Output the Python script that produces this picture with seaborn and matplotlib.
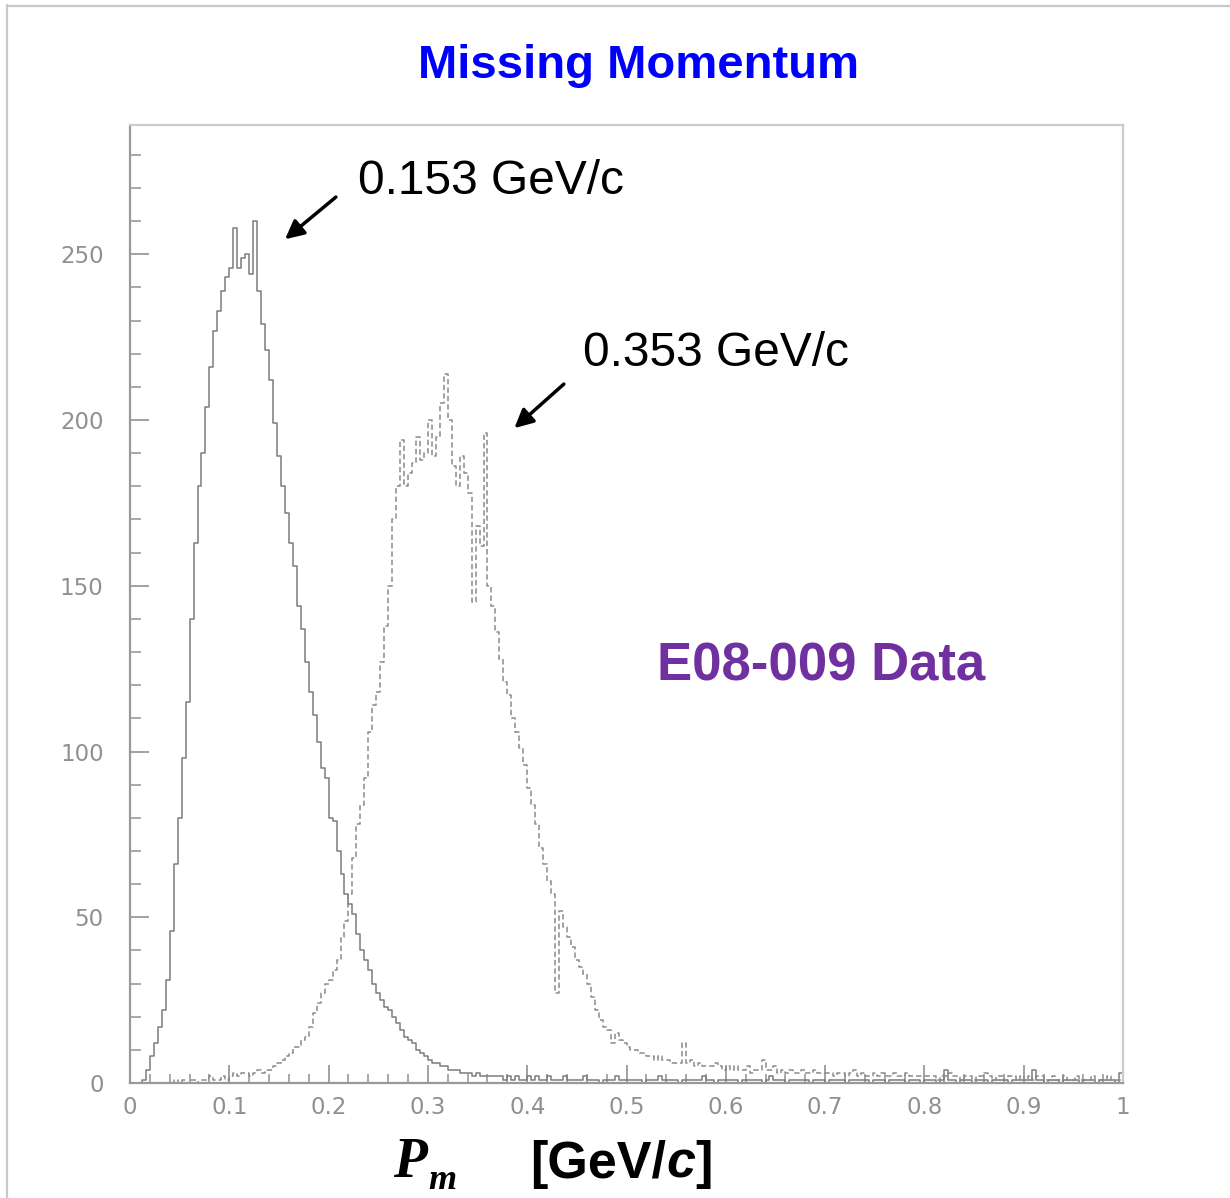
import numpy as np
import pandas as pd
import matplotlib
matplotlib.use("Agg")
import matplotlib.pyplot as plt
from matplotlib.ticker import MultipleLocator, FuncFormatter
from matplotlib.lines import Line2D
import seaborn as sns

# Missing-momentum histograms, 250 bins of 0.004 GeV/c from 0 to 1
bin_width = 0.004
bin_centers = np.round(np.arange(250) * bin_width + bin_width / 2, 4)

# Kinematic setting centred at 0.153 GeV/c (solid histogram)
counts_low = [
    # 0.0 - 0.1
    0, 0, 0, 1, 4, 8, 12, 17, 22, 31, 46, 66, 80, 98, 115, 140, 163, 180, 190, 204, 216, 227, 233, 239, 243,
    # 0.1 - 0.2
    246, 258, 246, 249, 250, 244, 260, 239, 229, 221, 212, 199, 189, 180, 172, 163, 156, 144, 137, 127, 118, 111, 103, 95, 92,
    # 0.2 - 0.3
    80, 79, 70, 63, 57, 54, 51, 45, 40, 37, 34, 30, 27, 25, 23, 22, 20, 18, 16, 14, 13, 12, 10, 9, 8,
    # 0.3 - 0.4
    7, 6, 6, 5, 5, 4, 4, 4, 3, 3, 3, 2, 3, 2, 2, 2, 2, 2, 2, 1, 2, 1, 2, 1, 1,
    # 0.4 - 0.5
    2, 1, 2, 1, 1, 2, 1, 1, 1, 2, 1, 1, 1, 1, 2, 1, 1, 1, 0, 1, 1, 1, 2, 1, 1,
    # 0.5 - 0.6
    1, 1, 1, 1, 0, 1, 1, 1, 2, 1, 1, 1, 1, 0, 1, 1, 1, 1, 1, 2, 1, 1, 0, 1, 1,
    # 0.6 - 0.7
    1, 1, 1, 0, 1, 1, 1, 1, 1, 0, 1, 2, 1, 1, 1, 0, 1, 1, 1, 1, 1, 0, 1, 1, 1,
    # 0.7 - 0.8
    0, 1, 1, 1, 1, 0, 1, 1, 1, 1, 1, 0, 1, 1, 1, 0, 1, 1, 1, 1, 0, 1, 1, 1, 0,
    # 0.8 - 0.9
    1, 1, 1, 0, 1, 4, 1, 1, 0, 1, 1, 1, 0, 1, 1, 1, 0, 1, 1, 1, 1, 0, 1, 1, 1,
    # 0.9 - 1.0
    1, 1, 4, 1, 1, 0, 1, 1, 1, 0, 1, 1, 1, 1, 0, 1, 1, 1, 0, 1, 1, 1, 1, 0, 3,
]

# Kinematic setting centred at 0.353 GeV/c (dashed histogram)
counts_high = [
    # 0.0 - 0.1
    0, 0, 0, 0, 0, 0, 0, 0, 0, 0, 0, 1, 0, 1, 0, 1, 1, 0, 1, 1, 2, 1, 1, 2, 1,
    # 0.1 - 0.2
    2, 3, 2, 3, 3, 2, 3, 4, 3, 4, 4, 5, 6, 7, 8, 9, 11, 11, 13, 14, 17, 21, 24, 27, 30,
    # 0.2 - 0.3
    31, 34, 37, 44, 49, 57, 68, 78, 84, 92, 106, 114, 118, 127, 138, 150, 170, 180, 194, 180, 184, 187, 195, 188, 190,
    # 0.3 - 0.4
    200, 189, 195, 205, 214, 200, 186, 180, 189, 184, 178, 145, 168, 162, 196, 150, 144, 136, 128, 121, 117, 110, 106, 101, 96,
    # 0.4 - 0.5
    89, 84, 78, 71, 66, 61, 57, 27, 52, 47, 44, 41, 37, 35, 33, 30, 26, 22, 19, 17, 16, 12, 15, 13, 12,
    # 0.5 - 0.6
    11, 10, 10, 9, 9, 8, 8, 7, 8, 7, 7, 6, 6, 6, 12, 6, 7, 5, 6, 5, 5, 5, 6, 5, 4,
    # 0.6 - 0.7
    5, 4, 5, 4, 4, 5, 3, 4, 4, 7, 4, 4, 5, 3, 4, 3, 4, 3, 3, 4, 3, 3, 4, 3, 3,
    # 0.7 - 0.8
    3, 3, 2, 3, 3, 2, 3, 4, 2, 3, 2, 2, 3, 2, 3, 2, 2, 3, 2, 2, 3, 2, 2, 2, 2,
    # 0.8 - 0.9
    2, 2, 2, 1, 2, 2, 3, 2, 2, 1, 2, 2, 1, 2, 2, 3, 2, 1, 2, 2, 1, 2, 2, 1, 2,
    # 0.9 - 1.0
    1, 2, 1, 2, 2, 1, 1, 2, 1, 1, 2, 1, 1, 2, 1, 1, 1, 2, 1, 1, 1, 2, 1, 1, 1,
]

x_ticks = [0, 0.1, 0.2, 0.3, 0.4, 0.5, 0.6, 0.7, 0.8, 0.9, 1.0]
y_ticks = [0, 50, 100, 150, 200, 250]

peak_labels = ["0.153 GeV/c", "0.353 GeV/c"]
title_text = "Missing Momentum"
data_label = "E08-009 Data"

sns.set_style("ticks")
plt.rcParams["font.family"] = ["Liberation Sans", "DejaVu Sans"]

W, H = 1230, 1198
fig = plt.figure(figsize=(W / 100, H / 100), dpi=100)
fig.patch.set_facecolor("white")

ax = fig.add_axes([130 / W, 1 - 1083 / H, (1123 - 130) / W, (1083 - 125) / H])
ax.set_facecolor("white")

low_df = pd.DataFrame({"pm": bin_centers, "n": counts_low})
high_df = pd.DataFrame({"pm": bin_centers, "n": counts_high})

sns.histplot(data=low_df, x="pm", weights="n", binwidth=bin_width, binrange=(0, 1),
             element="step", fill=False, color="#7c7c7c", linewidth=1.1,
             linestyle="-", ax=ax)
sns.histplot(data=high_df, x="pm", weights="n", binwidth=bin_width, binrange=(0, 1),
             element="step", fill=False, color="#8a8a8a", linewidth=1.1,
             linestyle=(0, (3.5, 2)), ax=ax)

ax.set_xlim(0, 1)
ax.set_ylim(0, 289)
ax.set_xlabel("")
ax.set_ylabel("")

ax.set_xticks(x_ticks)
ax.set_yticks(y_ticks)
ax.xaxis.set_minor_locator(MultipleLocator(0.02))
ax.yaxis.set_minor_locator(MultipleLocator(10))
ax.xaxis.set_major_formatter(FuncFormatter(lambda v, p: f"{v:g}"))
ax.yaxis.set_major_formatter(FuncFormatter(lambda v, p: f"{int(v)}"))

tick_color = "#9a9a9a"
ax.tick_params(axis="y", which="major", direction="in", length=14, width=1.3,
               color=tick_color, labelcolor="#909090", labelsize=16.5, pad=19)
ax.tick_params(axis="y", which="minor", direction="in", length=8, width=1.2, color=tick_color)
ax.tick_params(axis="x", which="major", direction="in", length=13, width=1.3,
               color=tick_color, labelcolor="#909090", labelsize=16.5, pad=9)
ax.tick_params(axis="x", which="minor", direction="in", length=6.5, width=1.2, color=tick_color)
for lbl in ax.get_xticklabels() + ax.get_yticklabels():
    lbl.set_fontfamily("DejaVu Sans")

ax.spines["left"].set_color("#999999")
ax.spines["bottom"].set_color("#999999")
ax.spines["top"].set_color("#cccccc")
ax.spines["right"].set_color("#cccccc")
for s in ax.spines.values():
    s.set_linewidth(1.6)

# Peak annotations with arrows
ax.annotate("", xy=(0.154, 254), xytext=(0.2095, 267.8),
            arrowprops=dict(arrowstyle="-|>", color="black", lw=2.5, mutation_scale=28))
ax.annotate("", xy=(0.385, 197), xytext=(0.439, 211.4),
            arrowprops=dict(arrowstyle="-|>", color="black", lw=2.5, mutation_scale=28))

fig.text(358 / W, 1 - 194 / H, peak_labels[0], fontsize=34.5, color="black",
         ha="left", va="baseline")
fig.text(583 / W, 1 - 366 / H, peak_labels[1], fontsize=34.5, color="black",
         ha="left", va="baseline")

fig.text(638.5 / W, 1 - 78 / H, title_text, fontsize=34, fontweight="bold",
         color="#0000ff", ha="center", va="baseline")
fig.text(657 / W, 1 - 681 / H, data_label, fontsize=38, fontweight="bold",
         color="#7030a0", ha="left", va="baseline")

# Axis title: P_m  [GeV/c]
fig.text(393 / W, 1 - 1177 / H, "P", fontsize=40, fontstyle="italic", fontweight="bold",
         family=["Liberation Serif"], color="black", ha="left", va="baseline")
fig.text(428 / W, 1 - 1189 / H, "m", fontsize=26, fontstyle="italic", fontweight="bold",
         family=["Liberation Serif"], color="black", ha="left", va="baseline")

renderer = fig.canvas.get_renderer()
x_px = 530
base_y = 1 - 1178 / H
for piece, style in [("[GeV/", "normal"), ("c", "italic"), ("]", "normal")]:
    t = fig.text(x_px / W, base_y, piece, fontsize=37.5, fontweight="bold",
                 fontstyle=style, color="black", ha="left", va="baseline")
    x_px += t.get_window_extent(renderer=renderer).width

# Page frame lines
fig.add_artist(Line2D([7 / W, 7 / W], [0, 1 - 5 / H], transform=fig.transFigure,
                      color="#c8c8c8", linewidth=1.6))
fig.add_artist(Line2D([7 / W, 1], [1 - 6 / H, 1 - 6 / H], transform=fig.transFigure,
                      color="#c8c8c8", linewidth=1.6))

fig.savefig("out.png", dpi=100, facecolor="white")
